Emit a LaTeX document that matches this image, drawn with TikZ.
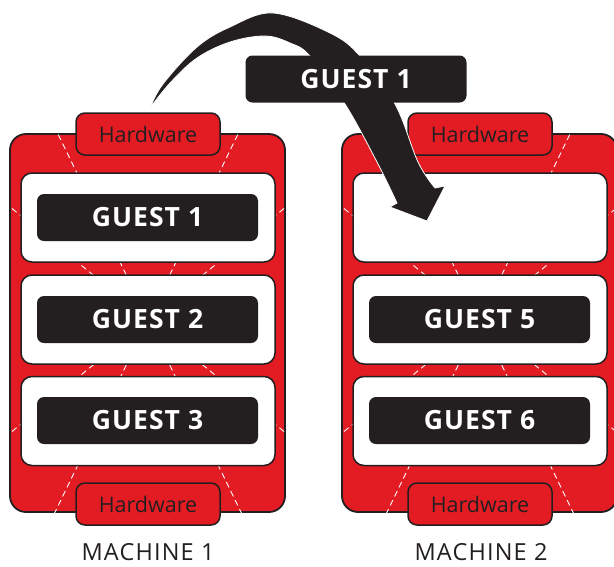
\documentclass[tikz,border=0pt]{standalone}
\usepackage{fontspec}
\setmainfont{Open Sans}
\newfontfamily\gfont[LetterSpace=4]{Open Sans}
\newfontfamily\mfont[LetterSpace=5]{Open Sans}
\definecolor{rhred}{HTML}{E31B23}
\definecolor{ink}{HTML}{231F20}
\begin{document}
\begin{tikzpicture}[x=1pt,y=-1pt,
  mbox/.style={draw=ink, line width=1.8pt, fill=rhred, rounded corners=16pt, minimum width=275pt, minimum height=378pt, inner sep=0pt},
  hwtab/.style={draw=ink, line width=1.5pt, fill=rhred, rounded corners=9pt, minimum width=144pt, minimum height=42pt, inner sep=0pt, text=ink, font=\fontsize{21.5}{21.5}\selectfont},
  vmpanel/.style={draw=ink, line width=1.5pt, fill=white, rounded corners=11pt, minimum width=254pt, minimum height=89pt, inner sep=0pt},
  gbox/.style={fill=ink, rounded corners=7pt, minimum width=221pt, minimum height=47pt, inner sep=0pt, text=white, font=\gfont\bfseries\fontsize{26.5}{26.5}\selectfont},
  raydash/.style={white, line width=0.9pt, dash pattern=on 6pt off 4pt},
  mlabel/.style={text=ink, inner sep=0pt, font=\mfont\fontsize{23.5}{23.5}\selectfont}
]
\useasboundingbox (0,0) rectangle (614,566);

% machine frames
\node[mbox] (m1) at (147.5,323) {};
\node[mbox] (m2) at (479.5,323) {};

% radiating dashed lines
\coordinate (c1) at (148,320);
\coordinate (c2) at (480,320);
\begin{scope}
  \clip[rounded corners=16pt] (m1.south west) rectangle (m1.north east);
  \foreach \sx in {-1,1} \foreach \sy in {-1,1} {
    \draw[raydash] (c1) -- ++(\sx*150,\sy*310);
    \draw[raydash] (c1) -- ++(\sx*300,\sy*246);
  }
\end{scope}
\begin{scope}
  \clip[rounded corners=16pt] (m2.south west) rectangle (m2.north east);
  \foreach \sx in {-1,1} \foreach \sy in {-1,1} {
    \draw[raydash] (c2) -- ++(\sx*150,\sy*310);
    \draw[raydash] (c2) -- ++(\sx*300,\sy*246);
  }
\end{scope}

% panels
\node[vmpanel] (p11) at (148,217.5) {};
\node[vmpanel] (p12) at (148,319.5) {};
\node[vmpanel] (p13) at (148,421) {};
\node[vmpanel] (p21) at (480,217.5) {};
\node[vmpanel] (p22) at (480,319.5) {};
\node[vmpanel] (p23) at (480,421) {};

% hardware tabs
\node[hwtab] (h1t) at (148,134) {Hardware};
\node[hwtab] (h1b) at (148,504) {Hardware};
\node[hwtab] (h2t) at (480,134) {Hardware};
\node[hwtab] (h2b) at (480,504) {Hardware};

% guests
\node[gbox] (g1) at (147.5,217.5) {GUEST 1};
\node[gbox] (g2) at (147.5,319.5) {GUEST 2};
\node[gbox] (g3) at (147.5,420.5) {GUEST 3};
\node[gbox] (g5) at (479.5,319.5) {GUEST 5};
\node[gbox] (g6) at (479.5,420.5) {GUEST 6};

% migration arrow
\fill[ink, draw=white, line width=0.8pt, line join=miter]
  plot[smooth, tension=0.6] coordinates {(150,108) (163,84) (197,47) (230,27) (273,13) (330,33) (360,56) (395,104) (418,162) (435,188)}
  -- (445,186) -- (427,221) -- (390,207) -- (397,203)
  -- plot[smooth, tension=0.6] coordinates {(397,203) (377,162) (345,104) (310,56) (290,43) (265,36) (230,42) (197,58) (170,83) (150,108)}
  -- cycle;

\node[gbox] (gm) at (356,79) {GUEST 1};

% labels
\node[mlabel] (l1) at (148,552) {MACHINE 1};
\node[mlabel] (l2) at (481,552) {MACHINE 2};
\end{tikzpicture}
\end{document}
